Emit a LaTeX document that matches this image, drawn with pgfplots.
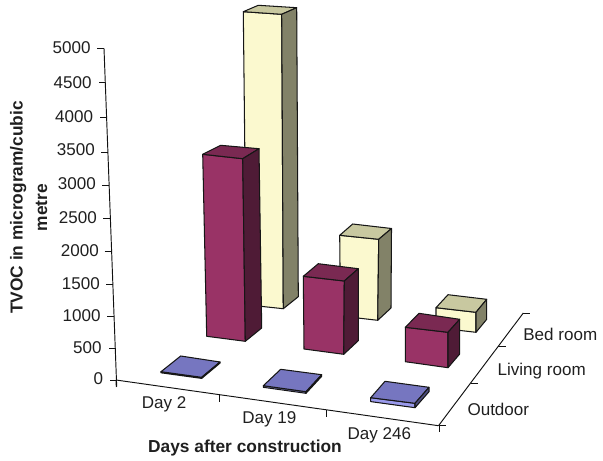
\documentclass[border=0pt]{standalone}
\usepackage{pgfplots}
\pgfplotsset{compat=1.18}
\usepackage{fontspec}
\setmainfont{Liberation Sans}
\definecolor{edge}{HTML}{161616}
\definecolor{axisline}{HTML}{111111}
\definecolor{textgrey}{HTML}{1F1F1F}
% Three shades per room: front, top, side
\definecolor{yf}{HTML}{FBF9CF}\definecolor{yt}{HTML}{C8C8A0}\definecolor{ys}{HTML}{828268}
\definecolor{pf}{HTML}{993366}\definecolor{pt}{HTML}{7A2952}\definecolor{ps}{HTML}{4F1B36}
\definecolor{bf}{HTML}{9A9AEC}\definecolor{bt}{HTML}{7676C0}\definecolor{bs}{HTML}{4D4D80}
% One filled face of a bar
\newcommand{\face}[2]{\addplot[draw=edge,fill=#1,line width=1.05pt,line join=round,mark=none] coordinates {#2} -- cycle;}
% One stroke of the frame
\newcommand{\stroke}[1]{\addplot[draw=axisline,line width=0.95pt,mark=none] coordinates {#1};}
\tikzset{
  lab/.style={font=\fontsize{17.1}{19}\selectfont, text=textgrey, inner sep=0pt},
  ttl/.style={font=\fontsize{17.4}{19}\bfseries\selectfont, text=textgrey, inner sep=0pt},
}
\begin{document}
\begin{tikzpicture}
\begin{axis}[
  at={(0,0)}, anchor=south west,
  scale only axis, width=603bp, height=461bp,
  xmin=0, xmax=603, ymin=0, ymax=461, y dir=reverse,
  hide axis, clip=false,
]
% Frame: value axis, day axis, room axis
\stroke{(104,48.3) (116.7,386.7)}
\stroke{(116,380) (438.5,425.7)}
\stroke{(438.5,425.7) (523.3,313)}
% Value axis ticks
\stroke{(97.3,48.3) (104,48.3)}
\stroke{(99,82.7) (105.3,82.7)}
\stroke{(100,117) (106.6,117)}
\stroke{(101,152) (108,152)}
\stroke{(102,185) (109,185)}
\stroke{(103.3,218.3) (110.5,218.3)}
\stroke{(104.7,251) (111.5,251)}
\stroke{(106,284) (113,284)}
\stroke{(107.3,316) (114,316)}
\stroke{(109,348.3) (115.5,348.3)}
\stroke{(110,380) (116.3,380)}
% Day axis ticks
\stroke{(116,380) (116.3,387)}
\stroke{(219,394.5) (219,401.7)}
\stroke{(326.7,410) (326.7,416.7)}
\stroke{(439,425.7) (439,432.3)}
% Room axis ticks
\stroke{(438.5,425.7) (446,425.7)}
\stroke{(470.7,383.7) (477.7,383.7)}
\stroke{(498.3,346.3) (505.7,346.3)}
\stroke{(523.3,313) (530,313)}

% Bed room bars, about 5000+, 1400 and 350
\face{yf}{(243.3,11.7) (281.7,14.3) (283.3,308.7) (246.5,304.8)}
\face{yt}{(243.3,11.7) (258.3,5.3) (296.7,7.7) (281.7,14.3)}
\face{ys}{(281.7,14.3) (296.7,7.7) (298.3,296.7) (283.3,308.7)}
\face{yf}{(339.7,235.3) (378.7,239.3) (377.7,320.3) (340.5,316)}
\face{yt}{(339.7,235.3) (352.7,224) (391.5,228.5) (378.7,239.3)}
\face{ys}{(378.7,239.3) (391.5,228.5) (391,308) (377.7,320.3)}
\face{yf}{(436,307.7) (476,312.3) (476,332.3) (436,327.7)}
\face{yt}{(436,307.7) (448,294.7) (486.7,299.3) (476,312.3)}
\face{ys}{(476,312.3) (486.7,299.3) (486.7,319.3) (476,332.3)}

% Living room bars, about 2800, 1100 and 600
\face{pf}{(202.7,154.3) (242.7,158.7) (245.3,341.3) (206.7,336.3)}
\face{pt}{(202.7,154.3) (220.7,145.3) (259,148.7) (242.7,158.7)}
\face{ps}{(242.7,158.7) (259,148.7) (261.7,328) (245.3,341.3)}
\face{pf}{(303.3,276.3) (344.3,281) (343.7,354.3) (304,349)}
\face{pt}{(303.3,276.3) (318.3,263.7) (358.3,268.7) (344.3,281)}
\face{ps}{(344.3,281) (358.3,268.7) (358.3,340.7) (343.7,354.3)}
\face{pf}{(405.3,327.3) (448,332.3) (448,367.7) (405.3,361.7)}
\face{pt}{(405.3,327.3) (419,313.3) (459.7,319.3) (448,332.3)}
\face{ps}{(448,332.3) (459.7,319.3) (459.7,354) (448,367.7)}

% Outdoor bars, close to zero
\face{bf}{(161,371.7) (201.7,377.3) (201.7,378.4) (161,372.8)}
\face{bt}{(161,371.7) (180.7,356) (220,362) (201.7,377.3)}
\face{bs}{(201.7,377.3) (220,362) (220,363.1) (201.7,378.4)}
\face{bf}{(263.3,385.7) (306,391.7) (306,393.3) (263.3,387.3)}
\face{bt}{(263.3,385.7) (280.7,369.3) (321.7,374.7) (306,391.7)}
\face{bs}{(306,391.7) (321.7,374.7) (321.7,376.3) (306,393.3)}
\face{bf}{(370.7,397.7) (415,403.3) (415,407.7) (370.7,401.6)}
\face{bt}{(370.7,397.7) (385,381.3) (429,387.3) (415,403.3)}
\face{bs}{(415,403.3) (429,387.3) (429,391.7) (415,407.7)}

% Value labels
\node[lab,anchor=east] at (axis cs:90.7,47.7) {5000};
\node[lab,anchor=east] at (axis cs:91.7,82.7) {4500};
\node[lab,anchor=east] at (axis cs:93.3,116.7) {4000};
\node[lab,anchor=east] at (axis cs:95,150) {3500};
\node[lab,anchor=east] at (axis cs:96,184) {3000};
\node[lab,anchor=east] at (axis cs:97,218) {2500};
\node[lab,anchor=east] at (axis cs:99,251) {2000};
\node[lab,anchor=east] at (axis cs:100,284) {1500};
\node[lab,anchor=east] at (axis cs:100.7,315.7) {1000};
\node[lab,anchor=east] at (axis cs:101.7,347.7) {500};
\node[lab,anchor=east] at (axis cs:103.3,379) {0};
% Category labels
\node[lab] at (axis cs:164,404) {Day 2};
\node[lab] at (axis cs:269.3,419.3) {Day 19};
\node[lab] at (axis cs:379.3,435) {Day 246};
\node[lab] at (axis cs:498.3,409.3) {Outdoor};
\node[lab] at (axis cs:541.7,371) {Living room};
\node[lab] at (axis cs:560.3,334.3) {Bed room};
% Axis titles
\node[ttl] at (axis cs:245,448) {Days after construction};
\node[ttl,rotate=90] at (axis cs:18.3,207.5) {TVOC in microgram/cubic};
\node[ttl,rotate=90] at (axis cs:41.5,207.5) {metre};
\end{axis}
% The page keeps the full drawing area
\path (0,0) rectangle (603bp,461bp);
\end{tikzpicture}
\end{document}
